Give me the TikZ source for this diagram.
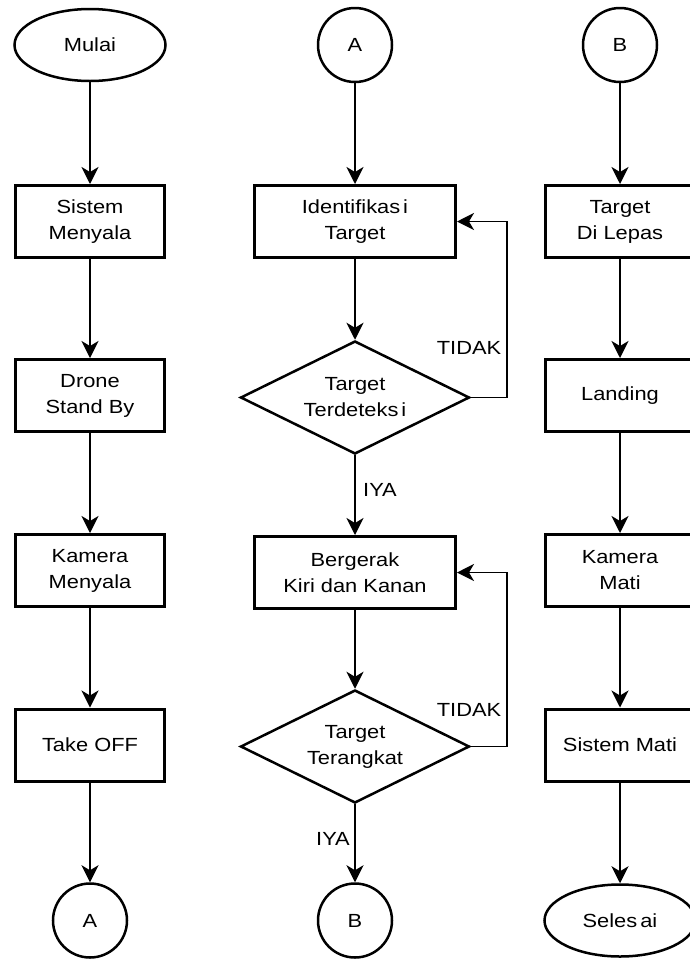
\documentclass[tikz,border=0pt]{standalone}
\usepackage{fontspec}
\setmainfont{Liberation Sans}[FakeStretch=1.15]
\usetikzlibrary{shapes.geometric,arrows.meta}
\begin{document}
\begin{tikzpicture}[x=1pt,y=-1pt,
  every node/.style={font=\fontsize{19}{26}\selectfont},
  term/.style={draw,ellipse,line width=2.5pt,minimum width=151pt,minimum height=72pt,inner sep=0pt},
  conn/.style={draw,circle,line width=2.5pt,minimum size=74pt,inner sep=0pt},
  proc/.style={draw,rectangle,line width=3pt,minimum width=149pt,minimum height=72pt,align=center,inner sep=0pt},
  wproc/.style={proc,minimum width=201pt},
  dec/.style={draw,diamond,aspect=2,line width=2.5pt,minimum width=229pt,minimum height=113pt,inner sep=0pt,align=center},
  arr/.style={line width=1.8pt,-{Stealth[length=17pt,width=17pt,inset=5pt]}},
  lbl/.style={inner sep=0pt}]
\fill[white] (0,0) rectangle (689,959);
\useasboundingbox (0,0) rectangle (689,959);

% column 1
\node[term] (mulai) at (90,45) {Mulai};
\node[proc] (sis) at (90,221.5) {Sistem\\Menyala};
\node[proc] (dro) at (90,395.5) {Drone\\Stand By};
\node[proc] (kam) at (90,570.5) {Kamera\\Menyala};
\node[proc] (tak) at (90,745) {Take OFF};
\node[conn] (a2) at (90,920.5) {A};

% column 2
\node[conn] (a1) at (355,45) {A};
\node[wproc] (idt) at (355,221.5) {Identifikas\hspace{3pt}i\\Target};
\node[dec] (d1) at (355,397.5) {Target\\Terdeteks\hspace{3pt}i};
\node[wproc] (bgr) at (355,572.5) {Bergerak\\Kiri dan Kanan};
\node[dec] (d2) at (355,746.5) {Target\\Terangkat};
\node[conn] (b2) at (355,920.5) {B};

% column 3
\node[conn] (b1) at (620,45) {B};
\node[proc] (lep) at (620,221.5) {Target\\Di Lepas};
\node[proc] (lan) at (620,395.5) {Landing};
\node[proc] (kmt) at (620,570.5) {Kamera\\Mati};
\node[proc] (smt) at (620,745) {Sistem Mati};
\node[term] (sel) at (620,920.5) {Seles\hspace{3pt}ai};

% connectors column 1
\draw[arr] (mulai) -- (sis);
\draw[arr] (sis) -- (dro);
\draw[arr] (dro) -- (kam);
\draw[arr] (kam) -- (tak);
\draw[arr] (tak) -- (a2);

% connectors column 2
\draw[arr] (a1) -- (idt);
\draw[arr] (idt) -- (d1);
\draw[arr] (d1) -- (bgr);
\draw[arr] (bgr) -- (d2);
\draw[arr] (d2) -- (b2);
\coordinate (l1) at (507,397.5);
\coordinate (l2) at (507,746.5);
\draw[arr] (d1.east) -- (l1) |- (idt.east);
\draw[arr] (d2.east) -- (l2) |- (bgr.east);

% connectors column 3
\draw[arr] (b1) -- (lep);
\draw[arr] (lep) -- (lan);
\draw[arr] (lan) -- (kmt);
\draw[arr] (kmt) -- (smt);
\draw[arr] (smt) -- (sel);

% labels
\node[lbl] (t1) at (469,348) {TIDAK};
\node[lbl] (t2) at (469,710) {TIDAK};
\node[lbl] (y1) at (380,490) {IYA};
\node[lbl] (y2) at (333,839) {IYA};
\end{tikzpicture}
\end{document}
